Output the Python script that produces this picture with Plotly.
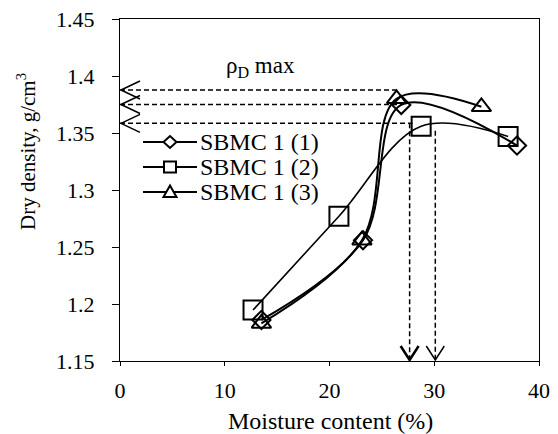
import plotly.graph_objects as go

# ---- data ----
series_names = ["SBMC 1 (1)", "SBMC 1 (2)", "SBMC 1 (3)"]
s1_x = [13.5, 23.2, 26.85, 37.9]
s1_y = [1.186, 1.256, 1.3746, 1.339]
s2_x = [12.7, 20.9, 28.75, 37.05]
s2_y = [1.1947, 1.277, 1.356, 1.347]
s3_x = [13.5, 23.1, 26.4, 34.5]
s3_y = [1.183, 1.256, 1.380, 1.373]

# rho_D max guide lines (horizontal: y level and x end; vertical: x and top y)
h_guide_y = [1.3877, 1.3750, 1.3585]
h_guide_xend = [26.4, 26.9, 27.9]
v_guide_x = [27.65, 30.1]
v_guide_ytop = [1.3585, 1.352]

x_ticks = [0, 10, 20, 30, 40]
y_ticks = [1.15, 1.2, 1.25, 1.3, 1.35, 1.4, 1.45]
y_ticklabels = ["1.15", "1.2", "1.25", "1.3", "1.35", "1.4", "1.45"]

x_title = "Moisture content (%)"
y_title = "Dry density, g/cm<sup>3</sup>"

FONT = "Liberation Serif, Times New Roman, DejaVu Serif, serif"
PAGE_OFF = 8            # default body margin of the html page
W, H = 558 - PAGE_OFF, 434 - PAGE_OFF
ML, MR, MT, MB = 120 - PAGE_OFF, 19, 19 - PAGE_OFF, 73
X0, X1 = 0, 40
Y0, Y1 = 1.15, 1.45
pw = W - ML - MR
ph = H - MT - MB
ux = (X1 - X0) / pw   # data units per pixel
uy = (Y1 - Y0) / ph

fig = go.Figure()

symbols = ["diamond-open", "square-open", "triangle-up-open"]
sizes = [14, 19, 17]
widths = [2, 1.6, 2]
for name, xs, ys, sym, sz, lw in zip(series_names, [s1_x, s2_x, s3_x], [s1_y, s2_y, s3_y],
                                     symbols, sizes, widths):
    fig.add_trace(go.Scatter(
        x=xs, y=ys, name=name, mode="lines+markers",
        line=dict(color="black", width=lw, shape="spline", smoothing=1),
        marker=dict(symbol=sym, size=sz, color="black", line=dict(width=2, color="black")),
        showlegend=False, cliponaxis=False))

dash = "5px,3px"
# horizontal dashed guides with open arrowheads at x = 0
for yv, xe in zip(h_guide_y, h_guide_xend):
    fig.add_trace(go.Scatter(x=[X0, xe], y=[yv, yv], mode="lines",
                             line=dict(color="black", width=1.5, dash=dash),
                             showlegend=False, hoverinfo="skip"))
    tip = X0 + 1 * ux
    fig.add_trace(go.Scatter(x=[tip + 19 * ux, tip, tip + 19 * ux],
                             y=[yv + 9 * uy, yv, yv - 9 * uy], mode="lines",
                             line=dict(color="black", width=1.5),
                             showlegend=False, hoverinfo="skip"))
# vertical dashed guides with open arrowheads at the x axis
for i, (xv, yt) in enumerate(zip(v_guide_x, v_guide_ytop)):
    fig.add_trace(go.Scatter(x=[xv, xv], y=[yt, Y0], mode="lines",
                             line=dict(color="black", width=1.5, dash=dash),
                             showlegend=False, hoverinfo="skip"))
    fig.add_trace(go.Scatter(x=[xv - 9 * ux, xv, xv + 9 * ux],
                             y=[Y0 + 15 * uy, Y0 + 1 * uy, Y0 + 15 * uy], mode="lines",
                             line=dict(color="black", width=2.5 if i == 0 else 1.5),
                             showlegend=False, hoverinfo="skip"))

# manual legend / text positions given in screen pixels -> paper coordinates
def px2paper_x(px):
    return (px - PAGE_OFF - ML) / pw

def py2paper_y(py):
    return (PAGE_OFF + H - MB - py) / ph

leg_rows = [142, 167, 192]
marker_paths = [
    "M 6.5 0 L 0 6 L -6.5 0 L 0 -6 Z",
    "M -6 -5.5 L 6 -5.5 L 6 5.5 L -6 5.5 Z",
    "M -6.5 -5 L 6.5 -5 L 0 6.5 Z",
]
shapes = []
for name, py, mp in zip(series_names, leg_rows, marker_paths):
    yp = py2paper_y(py)
    shapes.append(dict(type="line", xref="paper", yref="paper",
                       x0=px2paper_x(143), x1=px2paper_x(197), y0=yp, y1=yp,
                       line=dict(color="black", width=2)))
    shapes.append(dict(type="path", xref="paper", yref="paper",
                       xsizemode="pixel", ysizemode="pixel",
                       xanchor=px2paper_x(170), yanchor=yp, path=mp,
                       fillcolor="white", line=dict(color="black", width=2)))

annotations = []
for name, py in zip(series_names, leg_rows):
    annotations.append(dict(text=name, xref="paper", yref="paper",
                            x=px2paper_x(198), y=py2paper_y(py),
                            xanchor="left", yanchor="middle", showarrow=False,
                            font=dict(family=FONT, size=24, color="black")))
annotations.append(dict(text="ρ<sub>D</sub> max", xref="x", yref="y", x=13.4, y=1.408,
                        xanchor="center", yanchor="middle", showarrow=False,
                        font=dict(family=FONT, size=23, color="black")))
annotations.append(dict(text=y_title, xref="paper", yref="paper",
                        x=px2paper_x(27), y=py2paper_y(152), textangle=-90,
                        xanchor="center", yanchor="middle", showarrow=False,
                        font=dict(family=FONT, size=21, color="black")))
annotations.append(dict(text=x_title, xref="paper", yref="paper",
                        x=px2paper_x(330.5), y=py2paper_y(421),
                        xanchor="center", yanchor="middle", showarrow=False,
                        font=dict(family=FONT, size=24, color="black")))

fig.update_layout(
    template="none",
    width=W, height=H,
    margin=dict(l=ML, r=MR, t=MT, b=MB, pad=0, autoexpand=False),
    paper_bgcolor="white", plot_bgcolor="white",
    font=dict(family=FONT, size=22, color="black"),
    showlegend=False,
    shapes=shapes, annotations=annotations,
    xaxis=dict(range=[X0, X1], tickvals=x_ticks, showgrid=False, zeroline=False,
               automargin=False, ticklabeloverflow="allow",
               showline=True, linecolor="black", linewidth=1, mirror=True,
               ticks="outside", ticklen=4, tickcolor="black", ticklabelstandoff=6,
               tickfont=dict(family=FONT, size=22, color="black")),
    yaxis=dict(range=[Y0, Y1], tickvals=y_ticks, ticktext=y_ticklabels, showgrid=False,
               automargin=False, ticklabeloverflow="allow",
               zeroline=False, showline=True, linecolor="black", linewidth=1, mirror=True,
               ticks="outside", ticklen=7, tickcolor="black", ticklabelstandoff=13,
               tickfont=dict(family=FONT, size=22, color="black")),
)

fig.write_html("out.html")
